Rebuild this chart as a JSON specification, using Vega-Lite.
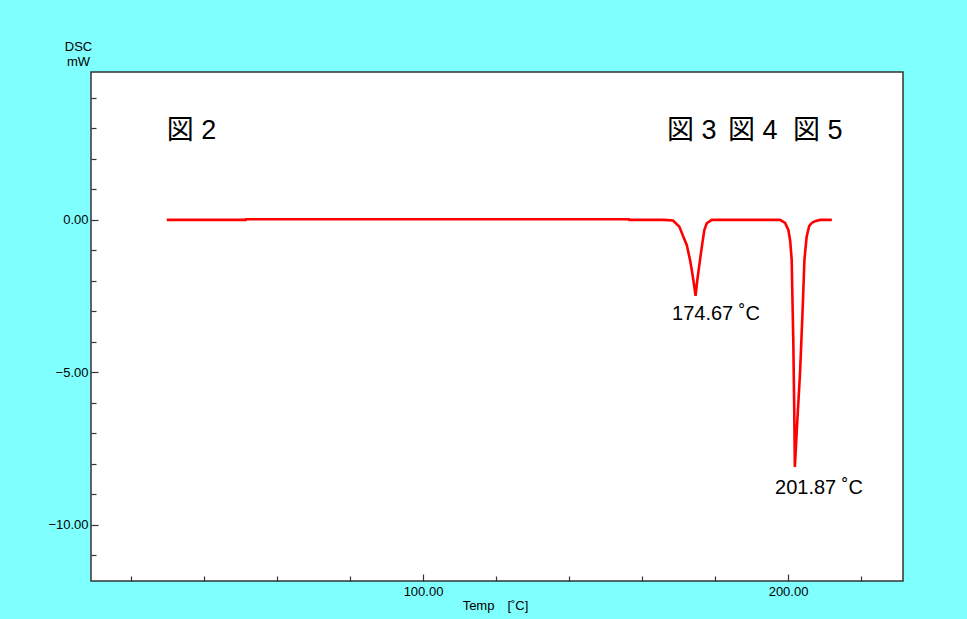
{
  "$schema": "https://vega.github.io/schema/vega-lite/v6.json",
  "width": 812,
  "height": 509,
  "autosize": {"type": "none"},
  "padding": {"left": 91, "top": 72, "right": 64, "bottom": 38},
  "background": "#80FFFF",
  "config": {
    "view": {"fill": "white", "stroke": "#333333", "strokeWidth": 1.5},
    "font": "Liberation Sans"
  },
  "datasets": {
    "curve": [
      {"T": 29.8, "V": 0},
      {"T": 51.4, "V": 0},
      {"T": 51.5, "V": 0.02},
      {"T": 156.4, "V": 0.02},
      {"T": 156.5, "V": 0},
      {"T": 166.0, "V": 0},
      {"T": 168.49, "V": -0.02},
      {"T": 170.22, "V": -0.22},
      {"T": 171.32, "V": -0.55},
      {"T": 172.25, "V": -0.82},
      {"T": 173.15, "V": -1.31},
      {"T": 173.78, "V": -1.75},
      {"T": 174.33, "V": -2.19},
      {"T": 174.67, "V": -2.49},
      {"T": 175.15, "V": -1.97},
      {"T": 175.89, "V": -1.31},
      {"T": 176.52, "V": -0.77},
      {"T": 177.07, "V": -0.33},
      {"T": 177.73, "V": -0.11},
      {"T": 179.1, "V": 0},
      {"T": 197.8, "V": 0},
      {"T": 199.2, "V": -0.1},
      {"T": 200.1, "V": -0.33},
      {"T": 200.6, "V": -0.7},
      {"T": 201.0, "V": -1.3},
      {"T": 201.45, "V": -4.0},
      {"T": 201.7, "V": -6.2},
      {"T": 201.87, "V": -8.1},
      {"T": 202.1, "V": -7.6},
      {"T": 202.4, "V": -6.9},
      {"T": 203.3, "V": -5.0},
      {"T": 204.0, "V": -2.95},
      {"T": 204.5, "V": -1.3},
      {"T": 205.1, "V": -0.55},
      {"T": 205.8, "V": -0.2},
      {"T": 206.5, "V": -0.1},
      {"T": 207.4, "V": -0.04},
      {"T": 208.8, "V": 0},
      {"T": 212.0, "V": 0}
    ],
    "peaks": [
      {"T": 168.22, "V": -3.1, "label": "174.67 ˚C"},
      {"T": 196.44, "V": -8.78, "label": "201.87 ˚C"}
    ],
    "figs": [
      {"T": 29.76, "V": 2.92, "label": "図 2"},
      {"T": 166.85, "V": 2.92, "label": "図 3"},
      {"T": 183.56, "V": 2.92, "label": "図 4"},
      {"T": 201.37, "V": 2.92, "label": "図 5"}
    ]
  },
  "layer": [
    {
      "data": {"name": "curve"},
      "mark": {"type": "line", "color": "#FF0000", "strokeWidth": 2.6, "clip": true},
      "encoding": {
        "x": {
          "field": "T",
          "type": "quantitative",
          "scale": {"domain": [9.04, 231.5], "nice": false, "zero": false},
          "axis": {
            "values": [20, 40, 60, 80, 100, 120, 140, 160, 180, 200, 220],
            "tickCount": 50,
            "labelExpr": "datum.value == 100 || datum.value == 200 ? format(datum.value, '.2f') : ''",
            "tickSize": {"condition": {"test": "datum.value == 100 || datum.value == 200", "value": -7}, "value": -5},
            "labelPadding": 11,
            "domain": false,
            "grid": false,
            "tickColor": "#333333",
            "tickWidth": 1.2,
            "labelFontSize": 13,
            "labelColor": "black",
            "labelFont": "Liberation Sans",
            "labelFlush": false,
            "labelOverlap": false,
            "title": "Temp　[˚C]",
            "titleFont": "Liberation Sans",
            "titleFontSize": 13,
            "titleFontWeight": "normal",
            "titleColor": "black",
            "titleX": 404,
            "titleY": 24,
            "titleAlign": "center",
            "titleBaseline": "middle"
          }
        },
        "y": {
          "field": "V",
          "type": "quantitative",
          "scale": {"domain": [-11.84, 4.85], "nice": false, "zero": false},
          "axis": {
            "values": [-11, -10, -9, -8, -7, -6, -5, -4, -3, -2, -1, 0, 1, 2, 3, 4],
            "tickCount": 50,
            "labelExpr": "datum.value % 5 == 0 ? format(datum.value, '.2f') : ''",
            "tickSize": {"condition": {"test": "datum.value % 5 == 0", "value": -7}, "value": -5},
            "labelPadding": 10,
            "domain": false,
            "grid": false,
            "tickColor": "#333333",
            "tickWidth": 1.2,
            "labelFontSize": 13,
            "labelColor": "black",
            "labelFont": "Liberation Sans",
            "labelFlush": false,
            "labelOverlap": false,
            "title": ["DSC", "mW"],
            "titleFont": "Liberation Sans",
            "titleFontSize": 13,
            "titleFontWeight": "normal",
            "titleColor": "black",
            "titleAngle": 0,
            "titleAlign": "center",
            "titleBaseline": "top",
            "titleLineHeight": 15,
            "titleX": -13,
            "titleY": -32
          }
        }
      }
    },
    {
      "data": {"name": "peaks"},
      "mark": {"type": "text", "align": "left", "baseline": "middle", "font": "Liberation Sans", "fontSize": 20, "color": "black"},
      "encoding": {
        "x": {"field": "T", "type": "quantitative"},
        "y": {"field": "V", "type": "quantitative"},
        "text": {"field": "label"}
      }
    },
    {
      "data": {"name": "figs"},
      "mark": {"type": "text", "align": "left", "baseline": "middle", "font": "Liberation Sans, Noto Sans CJK JP", "fontSize": 27, "color": "black"},
      "encoding": {
        "x": {"field": "T", "type": "quantitative"},
        "y": {"field": "V", "type": "quantitative"},
        "text": {"field": "label"}
      }
    }
  ]
}
